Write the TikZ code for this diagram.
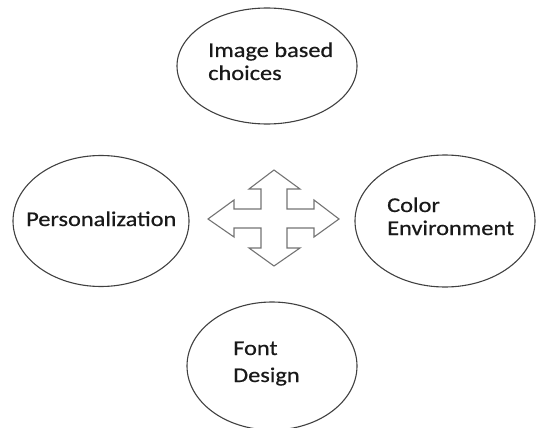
\documentclass[tikz,border=0pt]{standalone}
\usepackage{fontspec}
\setmainfont[FakeStretch=1.16,FakeBold=0.6]{Carlito}
\usetikzlibrary{shapes.geometric}
\begin{document}
\begin{tikzpicture}[x=1pt,y=-1pt,
  bubble/.style={ellipse,draw=black!75,line width=1.1pt,inner sep=0pt},
  lbl/.style={anchor=base west,inner sep=0pt,text=black!90,font=\fontsize{21}{23}\selectfont},
  crossline/.style={draw=black!55,line width=1.1pt,line join=miter}]
\useasboundingbox (0,0) rectangle (536,428);
\clip (0,0) rectangle (536,428);
% ellipses
\node[bubble,minimum width=180pt,minimum height=116pt] (top) at (267,66) {};
\node[bubble,minimum width=176pt,minimum height=131pt] (left) at (101,221) {};
\node[bubble,minimum width=180pt,minimum height=132pt] (right) at (445,221) {};
\node[bubble,minimum width=170pt,minimum height=128pt] (bottom) at (272,366) {};
% labels
\node[lbl] (t1) at (208,57) {Image based};
\node[lbl] (t2) at (208,80) {choices};
\node[lbl] (l1) at (26,226) {Personalization};
\node[lbl] (r1) at (387,212) {Color};
\node[lbl] (r2) at (387,235) {Environment};
\node[lbl] (b1) at (233,355) {Font};
\node[lbl] (b2) at (233,382) {Design};
% four-way arrow
\draw[crossline] (274,170) -- (300,189) -- (287,189) -- (287,209) -- (314,209) -- (314,200)
  -- (339,219) -- (314,237) -- (314,228) -- (287,228) -- (287,248) -- (300,248)
  -- (274,266) -- (249,248) -- (261,248) -- (261,228) -- (234,228) -- (234,237)
  -- (208,219) -- (234,200) -- (234,209) -- (261,209) -- (261,189) -- (249,189) -- cycle;
\end{tikzpicture}
\end{document}
